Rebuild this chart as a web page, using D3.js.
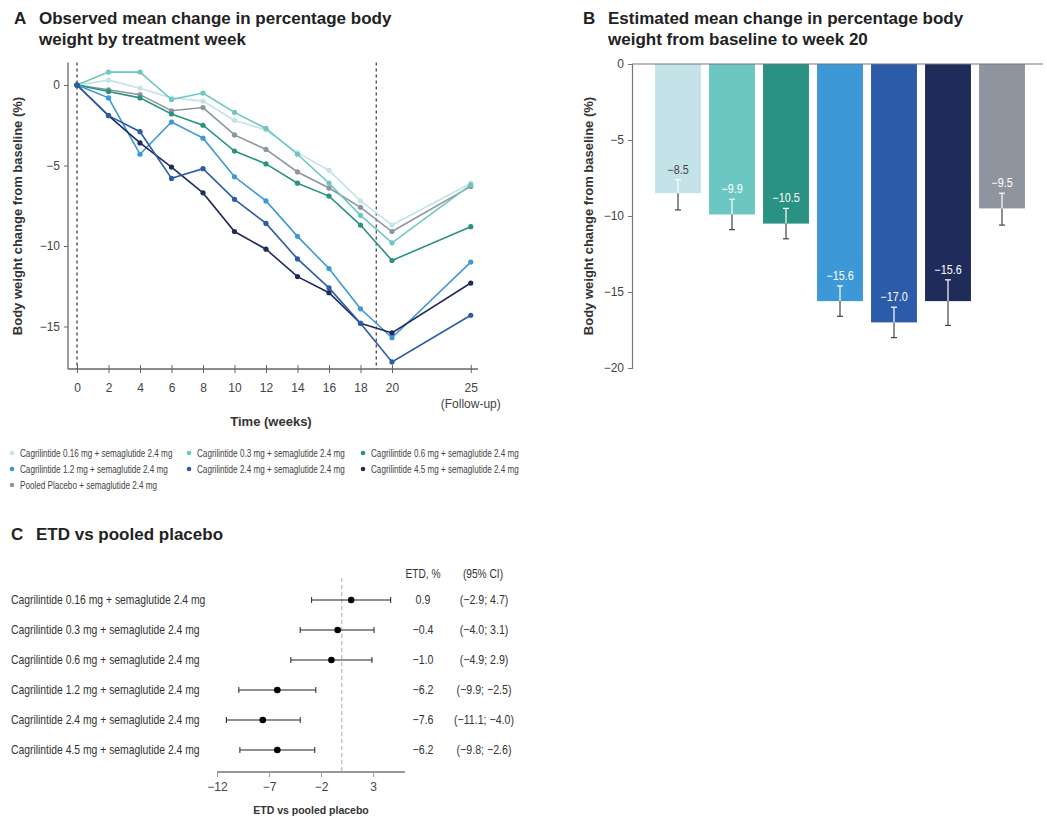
<!DOCTYPE html>
<html>
<head>
<meta charset="utf-8">
<script src="https://cdn.jsdelivr.net/npm/d3@7"></script>
<style>
  body { margin: 0; background: #fff; }
  svg text { font-family: "Liberation Sans", Arial, sans-serif; fill: #333; }
  .title { font-weight: bold; font-size: 17px; fill: #222; }
  .axtitle { font-weight: bold; font-size: 13px; fill: #333; }
  .tick text { font-size: 12px; fill: #444; }
</style>
</head>
<body>
<svg id="chart" width="1047" height="817"></svg>
<script>
// ---- data ----
var weeks = [0, 2, 4, 6, 8, 10, 12, 14, 16, 18, 20, 25];
var groupNames = [
  "Cagrilintide 0.16 mg + semaglutide 2.4 mg",
  "Cagrilintide 0.3 mg + semaglutide 2.4 mg",
  "Cagrilintide 0.6 mg + semaglutide 2.4 mg",
  "Cagrilintide 1.2 mg + semaglutide 2.4 mg",
  "Cagrilintide 2.4 mg + semaglutide 2.4 mg",
  "Cagrilintide 4.5 mg + semaglutide 2.4 mg",
  "Pooled Placebo + semaglutide 2.4 mg"
];
var groupColors = ["#c4e3e8", "#6cc6c1", "#2a9282", "#3c98d6", "#2b5ba9", "#1f2b5b", "#8f959f"];

var obsCagri016 = [0, 0.3, -0.2, -0.8, -1.0, -2.2, -2.8, -4.2, -5.3, -7.2, -8.7, -6.1];
var obsCagri03  = [0, 0.8, 0.8, -0.9, -0.5, -1.7, -2.7, -4.3, -6.1, -8.1, -9.8, -6.2];
var obsCagri06  = [0, -0.4, -0.8, -1.8, -2.5, -4.1, -4.9, -6.1, -6.9, -8.7, -10.9, -8.8];
var obsCagri12  = [0, -0.8, -4.3, -2.3, -3.3, -5.7, -7.2, -9.4, -11.4, -13.9, -15.7, -11.0];
var obsCagri24  = [0, -1.9, -2.9, -5.8, -5.2, -7.1, -8.6, -10.8, -12.6, -14.8, -17.2, -14.3];
var obsCagri45  = [0, -1.9, -3.6, -5.1, -6.7, -9.1, -10.2, -11.9, -12.9, -14.8, -15.4, -12.3];
var obsPlacebo  = [0, -0.3, -0.6, -1.6, -1.4, -3.1, -4.0, -5.4, -6.4, -7.6, -9.1, -6.3];
var observed = [obsCagri016, obsCagri03, obsCagri06, obsCagri12, obsCagri24, obsCagri45, obsPlacebo];

var barValues = [-8.5, -9.9, -10.5, -15.6, -17.0, -15.6, -9.5];
var barCiLow  = [-9.6, -10.9, -11.5, -16.6, -18.0, -17.2, -10.6];
var barCiHigh = [-7.6, -8.9, -9.5, -14.6, -16.0, -14.2, -8.5];

var etdNames = groupNames.slice(0, 6);
var etdValues = [0.9, -0.4, -1.0, -6.2, -7.6, -6.2];
var etdLow    = [-2.9, -4.0, -4.9, -9.9, -11.1, -9.8];
var etdHigh   = [4.7, 3.1, 2.9, -2.5, -4.0, -2.6];

var svg = d3.select("#chart");
var minus = function(v, f){ return d3.format(f)(v).replace("-", "\u2212"); };

// condensed text: the figure uses a narrow sans, squeeze Liberation Sans horizontally
function narrow(g, x, y, txt, size, sx, anchor){
  return g.append("text")
    .attr("transform", "translate(" + x + "," + y + ") scale(" + sx + ",1)")
    .attr("text-anchor", anchor || "start")
    .style("font-size", size + "px")
    .text(txt);
}

// ---- titles ----
function title(x, y, letter, lines){
  svg.append("text").attr("class","title").attr("x", x).attr("y", y).text(letter);
  lines.forEach(function(l, i){
    svg.append("text").attr("class","title").attr("x", x + 25).attr("y", y + i*21).text(l);
  });
}
title(14, 24, "A", ["Observed mean change in percentage body", "weight by treatment week"]);
title(583, 24, "B", ["Estimated mean change in percentage body", "weight from baseline to week 20"]);
title(11, 540, "C", ["ETD vs pooled placebo"]);

// ================= PANEL A =================
var xA = d3.scaleLinear().domain([0, 20]).range([77, 392]);
var yA = d3.scaleLinear().domain([0, -15]).range([85, 326.5]);
var gA = svg.append("g");

gA.append("line").attr("x1", 68).attr("x2", 68).attr("y1", yA(1.4)).attr("y2", 369)
  .attr("stroke", "#666").attr("stroke-width", 1.3);
gA.append("line").attr("x1", 68).attr("x2", 478).attr("y1", 369).attr("y2", 369)
  .attr("stroke", "#666").attr("stroke-width", 1.3);

var yAxisA = d3.axisLeft(yA).tickValues([0, -5, -10, -15]).tickSize(4).tickPadding(4)
  .tickFormat(function(d){ return minus(d, "d"); });
gA.append("g").attr("transform","translate(68,0)").call(yAxisA)
  .call(function(g){ g.select(".domain").remove(); g.selectAll("line").attr("stroke","#666"); });

var xAxisA = d3.axisBottom(xA).tickValues(weeks).tickSize(4).tickPadding(10);
gA.append("g").attr("transform","translate(0,369)").call(xAxisA)
  .call(function(g){ g.select(".domain").remove();
    g.selectAll("line").attr("stroke","#666").attr("y1", -4); });

gA.append("text").attr("x", xA(25)).attr("y", 408).attr("text-anchor","middle")
  .style("font-size","12px").style("fill","#444").text("(Follow-up)");
gA.append("text").attr("class","axtitle").attr("x", 271).attr("y", 426).attr("text-anchor","middle")
  .text("Time (weeks)");
gA.append("text").attr("class","axtitle").attr("transform","translate(22,216) rotate(-90)")
  .attr("text-anchor","middle").text("Body weight change from baseline (%)");

[0, 19].forEach(function(w){
  gA.append("line").attr("x1", xA(w)).attr("x2", xA(w)).attr("y1", yA(1.4)).attr("y2", 369)
    .attr("stroke","#333").attr("stroke-width",1.2).attr("stroke-dasharray","3,3");
});

var lineA = d3.line().x(function(d){ return xA(d[0]); }).y(function(d){ return yA(d[1]); });
var drawOrder = [6, 0, 1, 2, 3, 5, 4];
drawOrder.forEach(function(gi){
  var pts = weeks.map(function(w, i){ return [w, observed[gi][i]]; });
  gA.append("path").attr("d", lineA(pts)).attr("fill","none")
    .attr("stroke", groupColors[gi]).attr("stroke-width", 1.6);
  gA.selectAll(null).data(pts).enter().append("circle")
    .attr("cx", function(d){ return xA(d[0]); }).attr("cy", function(d){ return yA(d[1]); })
    .attr("r", 2.6).attr("fill", groupColors[gi]);
});

// legend
var legend = svg.append("g");
groupNames.forEach(function(n, i){
  var col = i % 3, row = Math.floor(i / 3);
  var lx = [12, 189, 363][col], ly = 453 + row * 16;
  legend.append("circle").attr("cx", lx).attr("cy", ly).attr("r", 2.3).attr("fill", groupColors[i]);
  narrow(legend, lx + 8, ly + 4, n, 11, 0.74).style("fill","#444");
});

// ================= PANEL B =================
var xB = d3.scaleBand().domain(d3.range(barValues.length)).range([651, 1029]).paddingInner(0.15).paddingOuter(0.075);
var yB = d3.scaleLinear().domain([0, -20]).range([64, 368]);
var gB = svg.append("g");

gB.selectAll(null).data(barValues).enter().append("rect")
  .attr("x", function(d, i){ return xB(i); }).attr("width", xB.bandwidth())
  .attr("y", yB(0)).attr("height", function(d){ return yB(d) - yB(0); })
  .attr("fill", function(d, i){ return groupColors[i]; });

barValues.forEach(function(v, i){
  var cx = xB(i) + xB.bandwidth() / 2;
  gB.append("line").attr("x1", cx).attr("x2", cx).attr("y1", yB(barCiHigh[i])).attr("y2", yB(v))
    .attr("stroke", "#fff").attr("stroke-width", 1.2);
  gB.append("line").attr("x1", cx - 3).attr("x2", cx + 3).attr("y1", yB(barCiHigh[i])).attr("y2", yB(barCiHigh[i]))
    .attr("stroke", "#fff").attr("stroke-width", 1.2);
  gB.append("line").attr("x1", cx).attr("x2", cx).attr("y1", yB(v)).attr("y2", yB(barCiLow[i]))
    .attr("stroke", "#444").attr("stroke-width", 1.2);
  gB.append("line").attr("x1", cx - 3).attr("x2", cx + 3).attr("y1", yB(barCiLow[i])).attr("y2", yB(barCiLow[i]))
    .attr("stroke", "#444").attr("stroke-width", 1.2);
  narrow(gB, cx, yB(barCiHigh[i]) - 6, minus(v, ".1f"), 12, 0.9, "middle")
    .style("fill", i === 0 ? "#444" : "#fff");
});

gB.append("line").attr("x1", 632).attr("x2", 1043).attr("y1", yB(0)).attr("y2", yB(0))
  .attr("stroke","#777").attr("stroke-width",1.2);
var yAxisB = d3.axisLeft(yB).tickValues([0, -5, -10, -15, -20]).tickSize(4).tickPadding(4)
  .tickFormat(function(d){ return minus(d, "d"); });
gB.append("g").attr("transform","translate(632,0)").call(yAxisB)
  .call(function(g){ g.select(".domain").attr("stroke","#777").attr("stroke-width",1.2);
    g.selectAll("line").attr("stroke","#777"); });
gB.append("text").attr("class","axtitle").attr("transform","translate(593,216) rotate(-90)")
  .attr("text-anchor","middle").text("Body weight change from baseline (%)");

// ================= PANEL C =================
var xC = d3.scaleLinear().domain([-12, 3]).range([217, 373]);
var yC = d3.scaleBand().domain(d3.range(etdNames.length)).range([585, 765]);
var gC = svg.append("g");

gC.append("line").attr("x1", xC(0)).attr("x2", xC(0)).attr("y1", 578).attr("y2", 772)
  .attr("stroke","#aaa").attr("stroke-width",1).attr("stroke-dasharray","4,3");

var xAxisC = d3.axisBottom(xC).tickValues([-12, -7, -2, 3]).tickSize(5).tickPadding(5)
  .tickFormat(function(d){ return minus(d, "d"); });
gC.append("g").attr("transform","translate(0,772)").call(xAxisC)
  .call(function(g){ g.select(".domain").remove(); g.selectAll("line").attr("stroke","#999"); });
gC.append("line").attr("x1", xC(-12)).attr("x2", 405).attr("y1", 772).attr("y2", 772)
  .attr("stroke","#999").attr("stroke-width",2);
gC.append("text").attr("class","axtitle").attr("x", 311).attr("y", 814).attr("text-anchor","middle")
  .style("font-size","10.5px").text("ETD vs pooled placebo");

narrow(gC, 423, 578, "ETD, %", 12, 0.85, "middle");
narrow(gC, 483, 578, "(95% CI)", 12, 0.85, "middle");

etdNames.forEach(function(n, i){
  var cy = yC(i) + yC.bandwidth() / 2;
  narrow(gC, 11, cy + 4, n, 12.5, 0.83);
  gC.append("line").attr("x1", xC(etdLow[i])).attr("x2", xC(etdHigh[i])).attr("y1", cy).attr("y2", cy)
    .attr("stroke","#222").attr("stroke-width",1);
  [etdLow[i], etdHigh[i]].forEach(function(e){
    gC.append("line").attr("x1", xC(e)).attr("x2", xC(e)).attr("y1", cy - 3).attr("y2", cy + 3)
      .attr("stroke","#222").attr("stroke-width",1);
  });
  gC.append("circle").attr("cx", xC(etdValues[i])).attr("cy", cy).attr("r", 3.3).attr("fill","#000");
  narrow(gC, 423, cy + 4, minus(etdValues[i], ".1f"), 12.5, 0.85, "middle");
  narrow(gC, 484, cy + 4, "(" + minus(etdLow[i], ".1f") + "; " + minus(etdHigh[i], ".1f") + ")", 12.5, 0.85, "middle");
});
</script>
</body>
</html>
